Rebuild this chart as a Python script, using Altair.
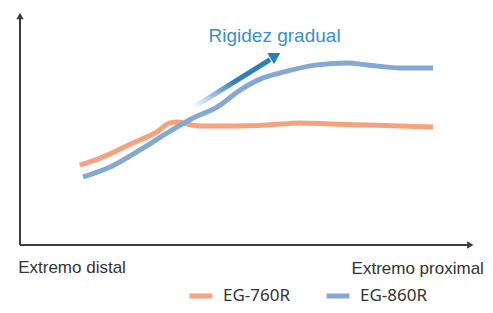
import altair as alt
import pandas as pd

# ---- data (position units: 0..100 along each axis) ----
series_names = ["EG-760R", "EG-860R"]
x_760 = [13.2, 17.7, 24.9, 30.2, 33.1, 34.9, 36.9, 39.7, 47.0, 54.5, 61.8, 69.1, 76.6, 83.9, 91.2]
y_760 = [34.3, 37.3, 43.8, 48.5, 52.4, 52.8, 51.9, 51.1, 51.1, 51.5, 52.4, 51.9, 51.5, 51.1, 50.6]
x_860 = [13.9, 19.9, 26.5, 32.5, 38.2, 43.5, 48.6, 53.0, 58.1, 65.6, 72.2, 76.6, 83.9, 91.2]
y_860 = [29.2, 33.5, 40.8, 48.1, 54.5, 59.2, 66.5, 71.2, 74.2, 77.3, 78.1, 77.3, 76.0, 76.0]
colors = ["#F5A27D", "#82A8D3"]

arrow_x = [38.2, 55.2]
arrow_y = [59.0, 79.6]
arrow_head = {"x": 56.4, "y": 81.2}
annotation = "Rigidez gradual"
label_left = "Extremo distal"
label_right = "Extremo proximal"

lines_df = pd.DataFrame(
    [{"serie": series_names[0], "x": a, "y": b, "i": i} for i, (a, b) in enumerate(zip(x_760, y_760))]
    + [{"serie": series_names[1], "x": a, "y": b, "i": i} for i, (a, b) in enumerate(zip(x_860, y_860))]
)

xs = alt.Scale(domain=[0, 100], nice=False, zero=False)
ys = alt.Scale(domain=[0, 100], nice=False, zero=False)
X = lambda f="x": alt.X(f"{f}:Q", scale=xs, axis=None)
Y = lambda f="y": alt.Y(f"{f}:Q", scale=ys, axis=None)

axis_col = "#3d3d3d"

# axes with arrows
yaxis_df = pd.DataFrame({"x": [0, 0], "y": [0, 97]})
xaxis_df = pd.DataFrame({"x": [0, 98.8], "y": [0, 0]})
yaxis = alt.Chart(yaxis_df).mark_line(color=axis_col, strokeWidth=2).encode(x=X(), y=Y())
xaxis = alt.Chart(xaxis_df).mark_line(color=axis_col, strokeWidth=2).encode(x=X(), y=Y())
heads_df = pd.DataFrame({"x": [0, 99.4], "y": [98.3, 0], "a": [0, 90]})
heads = alt.Chart(heads_df).mark_point(
    shape="triangle-up", filled=True, color=axis_col, size=55, opacity=1
).encode(x=X(), y=Y(), angle=alt.Angle("a:Q", scale=None))

lines = alt.Chart(lines_df).mark_line(strokeWidth=5, interpolate="monotone").encode(
    x=X(), y=Y(),
    order="i:Q",
    color=alt.Color(
        "serie:N",
        scale=alt.Scale(domain=series_names, range=colors),
        legend=alt.Legend(
            title=None, orient="none", direction="horizontal",
            legendX=167, legendY=270,
            symbolType="stroke", symbolStrokeWidth=5, symbolSize=520,
            labelFont="Noto Sans", labelFontSize=17, labelColor="#333333",
            labelOffset=8, columnPadding=25, padding=0,
        ),
    ),
)

arrow_df = pd.DataFrame({"x": arrow_x, "y": arrow_y})
arrow = alt.Chart(arrow_df).mark_line(
    strokeWidth=5,
    stroke=alt.LinearGradient(
        gradient="linear",
        stops=[
            alt.GradientStop(color="#ffffff", offset=0),
            alt.GradientStop(color="#2A80BA", offset=0.55),
            alt.GradientStop(color="#2A80BA", offset=1),
        ],
        x1=0, y1=1, x2=1, y2=0,
    ),
).encode(x=X(), y=Y())

ahead = alt.Chart(pd.DataFrame([arrow_head])).mark_point(
    shape="triangle-up", filled=True, color="#2A80BA", size=170, opacity=1, angle=59
).encode(x=X(), y=Y())

ann = alt.Chart(pd.DataFrame({"x": [56.2], "y": [87.1], "t": [annotation]})).mark_text(
    font="Liberation Sans", fontSize=19, color="#3A8FC6", align="center", baseline="alphabetic"
).encode(x=X(), y=Y(), text="t:N")

lbl_df = pd.DataFrame({"x": [-0.4, 102.4], "y": [-12.0, -12.5], "t": [label_left, label_right]})
lbl_l = alt.Chart(lbl_df.iloc[[0]]).mark_text(
    font="Liberation Sans", fontSize=17, color="#333333", align="left", baseline="alphabetic"
).encode(x=X(), y=Y(), text="t:N")
lbl_r = alt.Chart(lbl_df.iloc[[1]]).mark_text(
    font="Liberation Sans", fontSize=17, color="#333333", align="right", baseline="alphabetic"
).encode(x=X(), y=Y(), text="t:N")

chart = alt.layer(yaxis, xaxis, heads, lines, arrow, ahead, ann, lbl_l, lbl_r).properties(
    width=453, height=233,
    padding={"left": 12, "top": 4, "right": 12, "bottom": 60},
    autosize=alt.AutoSizeParams(type="none"),
).configure_view(stroke=None)

chart.save("out.html", embed_options={"renderer": "svg", "actions": False})
